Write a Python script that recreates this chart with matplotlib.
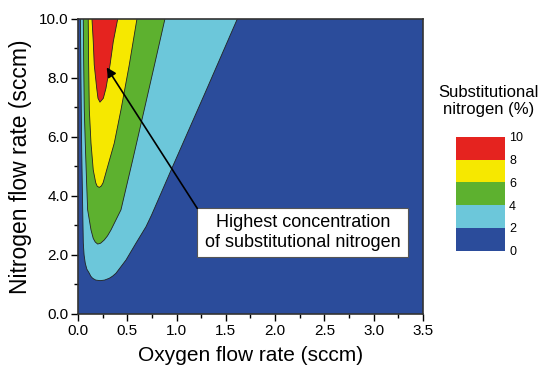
import numpy as np
import matplotlib
matplotlib.use('Agg')
import matplotlib.pyplot as plt
from matplotlib.colors import ListedColormap, BoundaryNorm
from matplotlib.cm import ScalarMappable
from matplotlib.patches import Rectangle
from matplotlib.ticker import MultipleLocator, FormatStrFormatter

plt.rcParams['font.family'] = ['Liberation Sans', 'DejaVu Sans']

# contour levels (substitutional nitrogen, %) and their fill colours
levels = [0, 2, 4, 6, 8, 10]
level_colors = ['#2B4C9B', '#6CC7DA', '#5DB12F', '#F6E800', '#E5231F']

# contour outlines (oxygen flow, nitrogen flow)
n2_x = [0.025, 0.03, 0.038, 0.048, 0.054, 0.062, 0.074, 0.09, 0.115, 0.13,
        0.149, 0.18, 0.226, 0.27, 0.317, 0.35, 0.385, 0.487, 0.588, 0.69,
        0.747, 0.967, 1.29, 1.616]
n2_y = [10.0, 8.0, 5.5, 3.53, 2.40, 2.0, 1.72, 1.52, 1.38, 1.28,
        1.21, 1.15, 1.13, 1.15, 1.21, 1.28, 1.38, 1.83, 2.40, 2.96,
        3.36, 5.05, 7.5, 10.0]

n4_x = [0.054, 0.058, 0.064, 0.074, 0.086, 0.098, 0.115, 0.132, 0.155, 0.175,
        0.20, 0.23, 0.267, 0.30, 0.335, 0.436, 0.555, 0.672, 0.78, 0.882]
n4_y = [10.0, 8.5, 6.92, 5.79, 4.6, 3.53, 3.19, 2.85, 2.56, 2.44,
        2.37, 2.40, 2.51, 2.65, 2.85, 3.53, 5.22, 6.92, 8.5, 10.0]

n6_x = [0.104, 0.108, 0.115, 0.132, 0.155, 0.18, 0.195, 0.216, 0.237, 0.255,
        0.291, 0.368, 0.436, 0.52, 0.598]
n6_y = [10.0, 8.5, 6.92, 5.79, 4.88, 4.45, 4.33, 4.29, 4.34, 4.45,
        4.88, 5.79, 6.92, 8.44, 10.0]

n8_x = [0.142, 0.155, 0.165, 0.19, 0.203, 0.223, 0.257, 0.284, 0.325, 0.358, 0.403]
n8_y = [10.0, 9.23, 8.44, 7.65, 7.31, 7.18, 7.31, 7.65, 8.44, 9.23, 10.0]

outlines = [(n2_x, n2_y), (n4_x, n4_y), (n6_x, n6_y), (n8_x, n8_y)]

fig = plt.figure(figsize=(5.48, 3.70), dpi=100)
ax = fig.add_axes([0.1423, 0.1514, 0.6296, 0.7973])
ax.set_facecolor(level_colors[0])

for i, (xs, ys) in enumerate(outlines):
    ax.fill(xs, ys, color=level_colors[i + 1], lw=0, zorder=1 + i)
    ax.plot(xs, ys, color='#222222', lw=0.6, zorder=1 + i)

ax.set_xlim(0, 3.5)
ax.set_ylim(0, 10)
ax.xaxis.set_major_locator(MultipleLocator(0.5))
ax.xaxis.set_minor_locator(MultipleLocator(0.25))
ax.yaxis.set_major_locator(MultipleLocator(2))
ax.yaxis.set_minor_locator(MultipleLocator(1))
ax.xaxis.set_major_formatter(FormatStrFormatter('%.1f'))
ax.yaxis.set_major_formatter(FormatStrFormatter('%.1f'))
ax.tick_params(which='major', direction='out', length=5, width=1, labelsize=11, pad=2)
ax.tick_params(which='minor', direction='out', length=3, width=1)
for s in ax.spines.values():
    s.set_linewidth(1.2)
    s.set_color('#333333')
    s.set_zorder(10)

ax.set_xlabel('Oxygen flow rate (sccm)', fontsize=15, labelpad=6)
ax.set_ylabel('Nitrogen flow rate (sccm)', fontsize=16.5, labelpad=5)

# annotation box with arrow
ax.add_patch(Rectangle((1.21, 1.92), 2.14, 1.66, facecolor='white',
                       edgecolor='#555555', lw=0.8, zorder=20))
ax.text(2.28, 2.75, 'Highest concentration\nof substitutional nitrogen',
        ha='center', va='center', fontsize=13, linespacing=1.25, zorder=21)
ax.annotate('', xy=(0.291, 8.36), xytext=(1.21, 3.58),
            arrowprops=dict(arrowstyle='-|>', color='black', lw=1.2,
                            mutation_scale=14, shrinkA=0, shrinkB=0),
            zorder=22)

# colour key
cax = fig.add_axes([0.832, 0.3224, 0.0894, 0.308])
cmap = ListedColormap(level_colors)
norm = BoundaryNorm(levels, cmap.N)
cb = fig.colorbar(ScalarMappable(norm=norm, cmap=cmap), cax=cax, ticks=levels)
cb.outline.set_visible(False)
cax.tick_params(length=0, labelsize=9, pad=3)
fig.text(0.892, 0.727, 'Substitutional\nnitrogen (%)', ha='center', va='center',
         fontsize=12, linespacing=1.15)

fig.savefig('out.png', dpi=100)
